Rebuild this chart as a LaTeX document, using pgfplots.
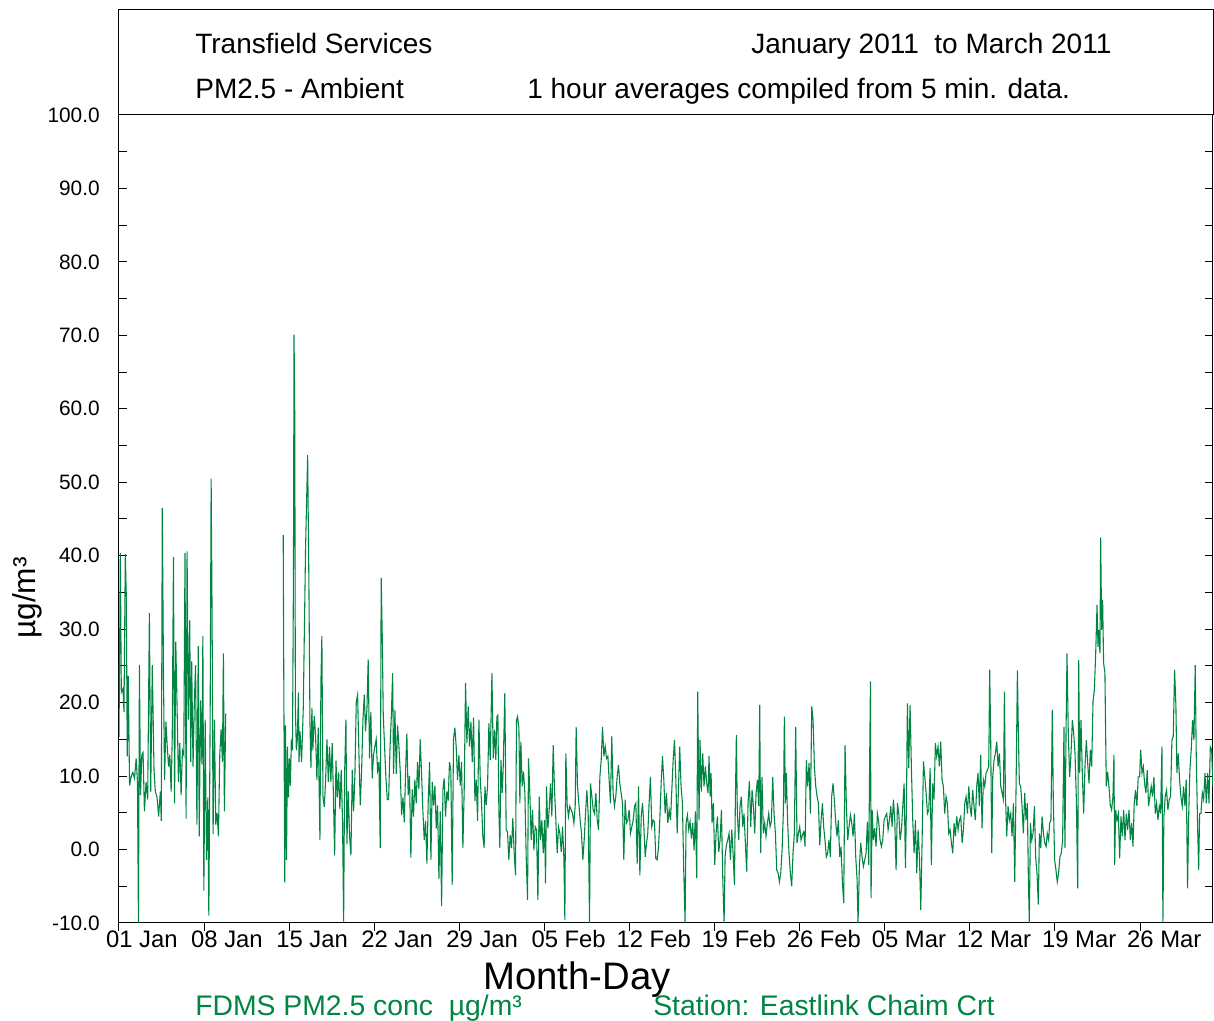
\documentclass[border=0pt]{standalone}
\usepackage{pgfplots}
\pgfplotsset{compat=1.18}
\usepackage{fontspec}
\setmainfont{Liberation Sans}
\definecolor{pmgreen}{RGB}{0,133,66}
\begin{document}
\begin{tikzpicture}
\begin{axis}[
  at={(0,0)}, anchor=south west,
  scale only axis, width=656.4pt, height=484.8pt,
  xmin=0, xmax=90, ymin=-10, ymax=100,
  axis line style={line width=0.6pt},
  xtick={0,7,...,84},
  xticklabels={01 Jan,08 Jan,15 Jan,22 Jan,29 Jan,05 Feb,12 Feb,19 Feb,26 Feb,05 Mar,12 Mar,19 Mar,26 Mar},
  xtick pos=bottom,
  ytick={-10,0,...,100},
  yticklabels={-10.0,0.0,10.0,20.0,30.0,40.0,50.0,60.0,70.0,80.0,90.0,100.0},
  minor ytick={-5,5,...,95},
  ytick pos=both, yticklabel pos=left,
  tick align=inside,
  major tick length=4.8pt, minor tick length=4.8pt,
  tick style={black, line width=0.6pt},
  x tick style={yshift=-4.8pt},
  xticklabel style={font=\fontsize{14.3}{17}\selectfont, anchor=north west, inner xsep=0pt, inner ysep=0pt, text height=10.4pt, text depth=3pt, xshift=-7.95pt, yshift=-4.2pt},
  yticklabel style={font=\fontsize{12.5}{15}\selectfont, anchor=east, inner xsep=0pt, xshift=-11.4pt},
  unbounded coords=jump,
]
\addplot[pmgreen, line width=0.65pt, mark=none] table {
x y
0.00 15.3
0.11 40.4
0.19 21.4
0.33 21.9
0.41 18.7
0.52 40.2
0.60 34.4
0.68 12.7
0.76 23.6
0.87 8.7
1.01 10.0
1.14 10.5
1.28 9.7
1.41 12.4
1.52 9.2
1.60 -10
1.68 25.1
1.77 7.4
1.88 12.9
1.98 13.2
2.09 5.2
2.23 9.2
2.36 6.8
2.50 32.2
2.61 7.9
2.74 25.1
2.88 10.8
2.99 7.9
3.13 7.1
3.26 4.5
3.40 7.9
3.48 3.9
3.56 46.5
3.67 21.9
3.75 9.5
3.86 17.4
3.97 14.0
4.08 11.3
4.18 12.9
4.29 7.9
4.38 15.3
4.48 39.8
4.57 6.3
4.67 28.3
4.78 19.3
4.89 9.2
5.00 14.5
5.11 7.4
5.22 13.5
5.33 12.9
5.43 40.4
5.52 4.2
5.60 40.6
5.71 17.7
5.82 31.2
5.90 11.9
5.98 25.6
6.09 11.3
6.20 20.1
6.30 25.1
6.41 3.4
6.52 27.7
6.60 1.8
6.71 20.3
6.82 11.6
6.90 29.1
6.98 -5.6
7.09 17.7
7.20 -1.4
7.31 7.1
7.39 -9.0
7.50 18.2
7.58 50.5
7.66 31.5
7.74 2.1
7.85 17.7
7.96 3.4
8.07 5.0
8.18 1.8
8.29 12.9
8.40 16.4
8.51 11.9
8.59 26.7
8.67 5.2
8.78 18.5
11.00 nan
13.51 42.8
13.56 21.9
13.64 -4.5
13.70 16.9
13.78 -1.4
13.86 14.0
13.94 7.1
14.02 12.4
14.10 8.7
14.18 15.0
14.27 13.5
14.35 36.7
14.40 70.1
14.46 59.0
14.51 19.3
14.59 13.5
14.67 15.0
14.76 21.4
14.81 11.9
14.89 16.1
15.02 11.9
15.16 19.3
15.35 41.2
15.52 53.7
15.63 34.9
15.71 17.2
15.79 11.1
15.87 19.3
15.95 13.5
16.06 18.2
16.17 15.6
16.28 9.5
16.39 16.6
16.53 1.3
16.61 22.7
16.69 29.1
16.78 7.1
16.89 5.8
16.99 9.2
17.11 15.0
17.22 9.2
17.32 14.0
17.43 9.2
17.54 14.5
17.65 6.6
17.74 -0.8
17.85 12.1
17.96 7.1
18.07 10.5
18.17 5.5
18.28 10.8
18.39 3.9
18.48 -9.8
18.56 10.3
18.67 17.7
18.75 0.7
18.86 7.9
18.97 1.8
19.08 -0.8
19.19 10.8
19.30 5.2
19.41 10.3
19.52 20.1
19.63 21.1
19.74 12.9
19.85 6.0
19.96 10.8
20.07 17.7
20.18 21.1
20.28 16.1
20.40 19.3
20.50 25.9
20.61 12.4
20.72 18.7
20.83 9.7
20.94 12.9
21.05 14.0
21.16 15.0
21.27 10.8
21.38 11.9
21.49 0.2
21.57 37.0
21.66 28.8
21.74 18.2
21.85 14.0
21.96 9.7
22.07 6.8
22.18 6.8
22.29 13.5
22.40 18.0
22.51 24.0
22.59 10.3
22.70 19.0
22.81 10.3
22.92 16.9
23.03 14.0
23.14 10.5
23.25 4.7
23.36 7.1
23.47 3.7
23.58 10.8
23.68 15.8
23.79 7.4
23.90 10.0
24.01 -1.1
24.12 8.2
24.23 4.5
24.34 9.5
24.45 6.3
24.56 11.9
24.67 8.2
24.78 15.0
24.89 10.3
25.00 5.2
25.11 1.3
25.22 3.9
25.33 -1.9
25.44 6.6
25.55 11.9
25.66 -1.4
25.77 9.2
25.88 6.0
25.99 8.7
26.10 2.9
26.21 6.0
26.32 -4.0
26.43 5.2
26.54 -7.7
26.65 8.2
26.75 9.7
26.86 4.5
26.97 7.9
27.08 6.6
27.19 11.9
27.30 10.8
27.41 -4.8
27.52 15.0
27.63 16.6
27.74 14.0
27.85 9.5
27.96 12.9
28.07 8.7
28.18 11.9
28.29 0.2
28.40 8.2
28.51 22.7
28.62 14.5
28.73 19.5
28.84 14.0
28.95 17.4
29.06 11.9
29.17 18.0
29.28 6.6
29.39 9.5
29.50 3.9
29.61 17.7
29.72 9.5
29.82 6.6
29.93 1.8
30.04 0.2
30.10 8.6
30.21 6.1
30.32 8.6
30.43 17.2
30.54 12.2
30.68 24.0
30.79 12.4
30.90 16.3
31.00 12.2
31.09 18.1
31.17 18.3
31.25 5.4
31.33 0.2
31.42 12.2
31.53 7.7
31.61 11.3
31.74 21.3
31.85 2.7
31.96 2.4
32.07 -1.4
32.18 2.0
32.29 0.2
32.40 4.3
32.51 -0.5
32.62 -3.5
32.70 17.6
32.79 18.1
32.90 16.5
32.98 6.3
33.06 14.7
33.17 8.6
33.28 10.6
33.39 7.7
33.50 -1.0
33.61 -6.9
33.69 12.4
33.80 7.7
33.91 1.3
34.02 5.4
34.13 -0.1
34.24 3.1
34.35 2.7
34.46 -6.9
34.57 7.2
34.68 1.3
34.79 4.0
34.90 -0.5
35.01 4.0
35.09 -4.6
35.17 8.6
35.28 2.9
35.39 5.4
35.50 9.0
35.61 4.5
35.72 14.2
35.83 8.1
35.94 4.0
36.05 -0.5
36.16 3.1
36.27 2.2
36.38 -0.3
36.49 3.1
36.60 -1.2
36.68 -9.6
36.76 13.1
36.87 6.1
36.98 4.5
37.09 5.9
37.20 5.4
37.31 4.9
37.42 3.6
37.53 5.9
37.61 16.7
37.72 8.6
37.83 6.3
37.94 4.0
38.05 2.2
38.16 -1.4
38.27 1.3
38.38 4.9
38.49 8.1
38.60 4.7
38.71 -10
38.79 9.0
38.90 7.2
39.01 5.4
39.12 4.9
39.23 7.7
39.34 4.0
39.45 2.7
39.56 9.9
39.67 12.2
39.78 16.7
39.89 12.7
40.00 14.0
40.11 12.4
40.22 12.7
40.32 9.5
40.43 6.3
40.54 15.4
40.65 7.7
40.76 5.9
40.87 7.2
40.98 9.9
41.09 11.5
41.20 9.0
41.31 7.7
41.42 6.3
41.53 -1.4
41.64 6.8
41.75 3.6
41.86 4.0
41.97 5.4
42.08 2.2
42.19 3.1
42.30 4.0
42.41 5.9
42.52 6.3
42.63 -1.9
42.74 8.6
42.85 -3.5
42.96 4.5
43.07 6.3
43.18 3.1
43.29 -1.0
43.40 0.9
43.50 2.2
43.61 6.3
43.72 9.9
43.83 3.1
43.94 4.0
44.05 3.8
44.16 -1.2
44.27 -1.4
44.38 0.2
44.49 4.0
44.60 9.0
44.71 12.7
44.82 9.5
44.93 4.9
45.04 7.7
45.15 3.6
45.26 5.4
45.37 4.0
45.48 8.1
45.59 12.2
45.70 14.9
45.81 9.5
45.92 2.2
46.03 8.6
46.13 14.0
46.24 8.6
46.35 6.3
46.46 -2.8
46.57 -10
46.65 3.6
46.76 4.7
46.87 2.7
46.98 3.8
47.09 1.5
47.20 3.6
47.31 -0.1
47.42 5.2
47.53 -3.9
47.61 21.5
47.72 4.0
47.80 14.9
47.91 7.9
48.02 13.1
48.13 8.6
48.24 11.3
48.35 9.0
48.46 7.7
48.54 12.7
48.63 7.2
48.71 10.4
48.79 3.6
48.90 6.3
49.01 -2.1
49.12 2.2
49.23 4.5
49.34 -0.3
49.45 1.3
49.56 5.4
49.67 -3.9
49.78 -10
49.86 -1.0
49.97 0.6
50.08 1.3
50.19 2.2
50.30 -1.4
50.41 2.7
50.52 -0.5
50.63 -4.8
50.71 7.0
50.79 15.6
50.87 4.9
50.98 1.3
51.09 5.9
51.20 7.2
51.31 3.1
51.42 4.9
51.53 0.9
51.64 -3.0
51.75 6.3
51.86 9.3
51.97 3.1
52.08 8.1
52.19 5.9
52.30 2.2
52.41 7.7
52.52 9.5
52.63 5.9
52.71 19.7
52.79 -0.5
52.90 9.9
53.01 2.2
53.12 3.6
53.23 1.8
53.34 3.6
53.45 4.9
53.56 3.1
53.67 3.8
53.78 9.9
53.89 4.9
54.00 2.2
54.11 -2.8
54.22 -3.2
54.33 -4.4
54.44 -3.2
54.55 -0.1
54.66 5.4
54.74 18.1
54.82 6.3
54.90 10.4
55.01 3.6
55.12 -0.5
55.23 -3.2
55.34 -5.0
55.45 -0.5
55.56 2.2
55.67 16.7
55.78 0.9
55.89 2.2
56.00 3.1
56.11 1.3
56.22 2.0
56.33 2.4
56.44 0.4
56.55 12.2
56.66 8.6
56.77 11.8
56.88 4.9
56.99 19.5
57.10 17.6
57.21 11.3
57.32 8.6
57.43 7.2
57.54 6.3
57.65 0.6
57.76 4.0
57.87 6.3
57.97 3.1
58.08 1.3
58.19 -1.0
58.30 -0.5
58.41 1.3
58.52 -1.0
58.63 7.2
58.74 9.0
58.85 6.8
58.96 3.8
59.07 1.8
59.18 4.0
59.29 -1.0
59.40 0.4
59.51 -4.4
59.62 -7.3
59.73 14.2
59.84 5.9
59.95 1.3
60.06 3.1
60.17 4.7
60.28 3.6
60.39 1.8
60.50 4.9
60.61 -1.0
60.72 -4.1
60.80 -10
60.91 -2.3
61.02 0.9
61.13 -1.0
61.24 -2.3
61.35 -1.4
61.46 -0.5
61.57 3.8
61.68 -2.1
61.76 13.1
61.82 22.9
61.87 -6.6
61.96 5.4
62.06 1.3
62.17 2.9
62.28 0.4
62.39 4.9
62.50 3.8
62.61 1.3
62.72 0.4
62.83 1.3
62.94 4.0
63.05 4.5
63.16 4.9
63.27 2.7
63.38 4.0
63.49 5.9
63.60 3.1
63.71 6.8
63.82 4.0
63.93 -2.8
64.04 6.3
64.15 4.9
64.26 1.3
64.37 2.7
64.48 5.9
64.59 9.0
64.70 -2.5
64.78 5.9
64.86 19.9
64.97 11.1
65.08 19.7
65.19 11.1
65.30 4.0
65.41 -0.5
65.52 4.0
65.63 -3.2
65.74 2.7
65.85 -1.0
65.96 -8.2
66.07 1.3
66.18 12.0
66.29 9.9
66.40 7.7
66.51 4.9
66.62 5.4
66.73 11.1
66.83 -2.1
66.94 9.0
67.05 6.8
67.16 14.5
67.27 12.7
67.38 14.0
67.49 11.3
67.60 14.7
67.71 9.5
67.82 8.6
67.93 4.9
68.04 7.2
68.15 6.3
68.26 2.2
68.37 2.7
68.48 0.9
68.59 -0.5
68.70 3.6
68.81 1.8
68.92 4.5
69.03 2.7
69.14 4.0
69.25 4.5
69.36 0.9
69.47 2.7
69.58 6.3
69.69 7.2
69.80 4.9
69.91 8.6
70.01 5.9
70.12 4.5
70.23 8.1
70.34 5.9
70.45 4.0
70.56 8.6
70.67 10.4
70.78 5.9
70.89 12.9
71.00 2.9
71.11 9.5
71.22 8.6
71.33 10.4
71.44 10.8
71.55 11.3
71.63 24.5
71.71 15.4
71.80 -0.5
71.88 9.9
71.99 12.2
72.10 13.1
72.21 14.7
72.32 11.3
72.43 13.1
72.54 8.6
72.65 7.7
72.76 6.8
72.84 21.5
72.92 7.7
73.03 1.8
73.14 5.9
73.25 4.0
73.36 4.9
73.47 1.8
73.58 6.3
73.69 -4.4
73.80 8.6
73.91 24.4
73.99 15.8
74.07 9.0
74.18 8.6
74.29 5.9
74.40 2.2
74.51 7.7
74.62 4.0
74.73 6.3
74.81 -3.9
74.89 -10
74.98 3.6
75.09 1.3
75.20 2.2
75.31 5.9
75.41 -1.0
75.52 -3.2
75.63 -7.5
75.72 2.2
75.83 0.2
75.94 4.5
76.05 2.2
76.16 0.9
76.27 0.4
76.37 2.2
76.48 1.3
76.56 3.6
76.67 4.0
76.78 19.0
76.86 7.2
76.97 -1.4
77.08 -2.8
77.19 -4.4
77.30 -3.2
77.41 -1.0
77.52 -0.5
77.63 1.3
77.74 16.7
77.82 0.2
77.91 15.8
77.99 26.7
78.10 15.4
78.21 9.9
78.32 13.1
78.43 17.6
78.54 15.8
78.65 13.1
78.76 6.8
78.87 -5.3
78.95 25.8
79.03 10.4
79.14 17.6
79.25 10.4
79.36 4.9
79.47 11.3
79.58 14.9
79.69 11.8
79.80 9.0
79.91 13.6
80.02 11.3
80.13 20.1
80.24 21.7
80.35 26.7
80.46 33.3
80.54 27.6
80.62 29.9
80.70 26.7
80.76 42.5
80.84 29.9
80.92 34.0
81.00 25.4
81.11 24.0
81.22 8.6
81.33 10.6
81.44 8.6
81.55 6.1
81.66 5.4
81.77 7.2
81.85 12.9
81.91 -2.1
81.99 5.4
82.10 4.0
82.21 4.9
82.32 -1.2
82.43 4.5
82.54 1.8
82.65 5.4
82.76 1.3
82.87 4.9
82.98 2.7
83.09 5.4
83.20 1.3
83.31 3.6
83.42 0.4
83.52 6.3
83.63 8.1
83.74 5.9
83.85 9.9
83.96 9.9
84.05 13.6
84.16 10.4
84.27 11.3
84.37 9.0
84.48 7.7
84.59 10.8
84.70 5.9
84.81 7.2
84.92 8.6
85.03 7.2
85.14 9.9
85.25 4.9
85.36 6.3
85.47 4.0
85.58 5.9
85.69 4.9
85.80 14.0
85.88 -10
85.96 4.5
86.07 7.2
86.18 8.1
86.29 5.4
86.40 6.8
86.51 7.2
86.62 14.9
86.73 15.4
86.84 24.5
86.95 19.5
87.03 10.4
87.14 13.1
87.25 9.5
87.36 7.2
87.47 5.9
87.58 8.6
87.69 5.9
87.80 9.5
87.91 -5.3
87.99 4.0
88.10 10.8
88.21 13.6
88.32 17.6
88.43 14.9
88.54 25.1
88.62 13.1
88.73 3.6
88.82 -2.8
88.90 4.9
89.01 4.9
89.12 7.7
89.23 6.8
89.34 10.4
89.45 6.3
89.56 10.4
89.67 6.3
89.78 14.0
89.89 13.6
89.99 8.6
};
\end{axis}
% header box above the plot area
\draw[line width=0.6pt] (0,484.8pt) -- (0,547.8pt) -- (656.4pt,547.8pt) -- (656.4pt,484.8pt);
\begin{scope}[every node/.style={inner sep=0pt, font=\fontsize{16.8}{20}\selectfont}]
\node[anchor=base west] at (45.6pt,521.4pt) {Transfield Services};
\node[anchor=base west] at (379.2pt,521.4pt) {January 2011\ \ to March 2011};
\node[anchor=base west] at (45.6pt,494.4pt) {PM2.5 - Ambient};
\node[anchor=base west] at (244.8pt,494.4pt) {1 hour averages compiled from 5 min. data.};
\end{scope}
\node[rotate=90, inner sep=0pt, font=\fontsize{19}{22}\selectfont] at (-55.2pt,195pt) {µg/m³};
\node[anchor=base, inner sep=0pt, font=\fontsize{23}{27}\selectfont] at (274.8pt,-40.2pt) {Month-Day};
\node[anchor=base west, inner sep=0pt, text=pmgreen, font=\fontsize{17}{20}\selectfont] at (45.6pt,-55.8pt) {FDMS PM2.5 conc\ \ µg/m³};
\node[anchor=base west, inner sep=0pt, text=pmgreen, font=\fontsize{17}{20}\selectfont] at (320.4pt,-55.8pt) {Station: Eastlink Chaim Crt};
\pgfresetboundingbox
\path (-71.4pt,-58.8pt) rectangle (657pt,553.8pt);
\end{tikzpicture}
\end{document}
